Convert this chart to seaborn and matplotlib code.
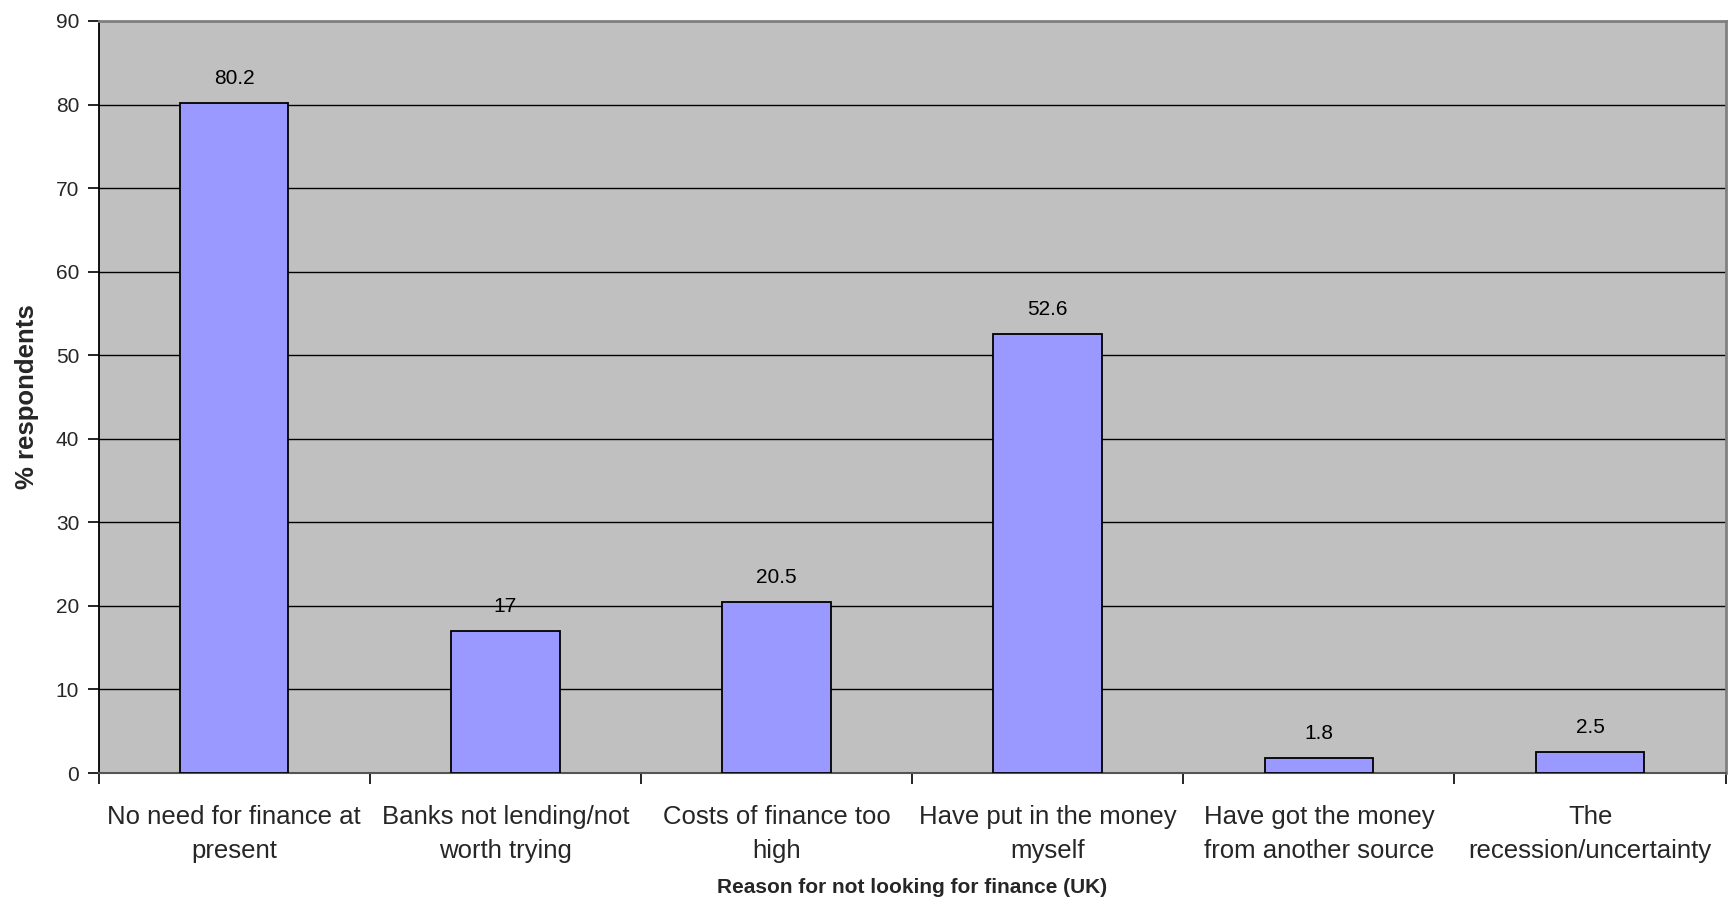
import matplotlib
matplotlib.use("Agg")
import matplotlib.pyplot as plt
import seaborn as sns
import pandas as pd
from matplotlib.ticker import FixedLocator

# Survey results: reasons UK respondents gave for not looking for finance
reasons = [
    "No need for finance at\npresent",
    "Banks not lending/not\nworth trying",
    "Costs of finance too\nhigh",
    "Have put in the money\nmyself",
    "Have got the money\nfrom another source",
    "The\nrecession/uncertainty",
]
pct_respondents = [80.2, 17, 20.5, 52.6, 1.8, 2.5]
value_labels = ["80.2", "17", "20.5", "52.6", "1.8", "2.5"]
y_ticks = [0, 10, 20, 30, 40, 50, 60, 70, 80, 90]

df = pd.DataFrame({"reason": reasons, "pct": pct_respondents})

sns.set_theme(style="white")
plt.rcParams["font.family"] = ["Liberation Sans", "DejaVu Sans"]

fig = plt.figure(figsize=(17.3, 9.01), dpi=100)
fig.patch.set_facecolor("white")
ax = fig.add_axes([0.0570, 0.142, 0.9405, 0.8347])
ax.set_facecolor("#C0C0C0")

sns.barplot(data=df, x="reason", y="pct", ax=ax, width=0.4,
            color="#9999FF", saturation=1, edgecolor="black", linewidth=1.3,
            zorder=3)

# value labels above each bar
for i, (v, lab) in enumerate(zip(pct_respondents, value_labels)):
    ax.annotate(lab, (i, v), xytext=(0, 17.6), textcoords="offset points",
                ha="center", va="center", fontsize=15, color="black")

ax.set_ylim(0, 90)
ax.set_xlim(-0.5, len(reasons) - 0.5)
ax.set_yticks(y_ticks)
ax.yaxis.grid(True, color="black", linewidth=1.0, zorder=0)
ax.set_axisbelow(True)

# category labels centred, tick marks at category boundaries
ax.set_xticks(range(len(reasons)))
ax.set_xticklabels(reasons, fontsize=18.5, linespacing=1.5)
ax.xaxis.set_minor_locator(FixedLocator([i - 0.5 for i in range(len(reasons) + 1)]))
ax.tick_params(axis="x", which="major", length=0, pad=23)
ax.tick_params(axis="x", which="minor", length=8, width=1.2, color="black",
               direction="out", bottom=True)
ax.tick_params(axis="y", which="major", length=8, width=1.2, color="black",
               direction="out", left=True, labelsize=15, pad=6)

ax.spines["left"].set_color("black")
ax.spines["left"].set_linewidth(1.3)
ax.spines["bottom"].set_color("#555555")
ax.spines["bottom"].set_linewidth(1.5)
for side in ["top", "right"]:
    ax.spines[side].set_color("#808080")
    ax.spines[side].set_linewidth(2)

ax.set_ylabel("% respondents", fontsize=18.5, fontweight="bold", labelpad=12)
ax.set_xlabel("Reason for not looking for finance (UK)", fontsize=15,
              fontweight="bold", labelpad=11.5)

fig.savefig("out.png", dpi=100, facecolor=fig.get_facecolor())
